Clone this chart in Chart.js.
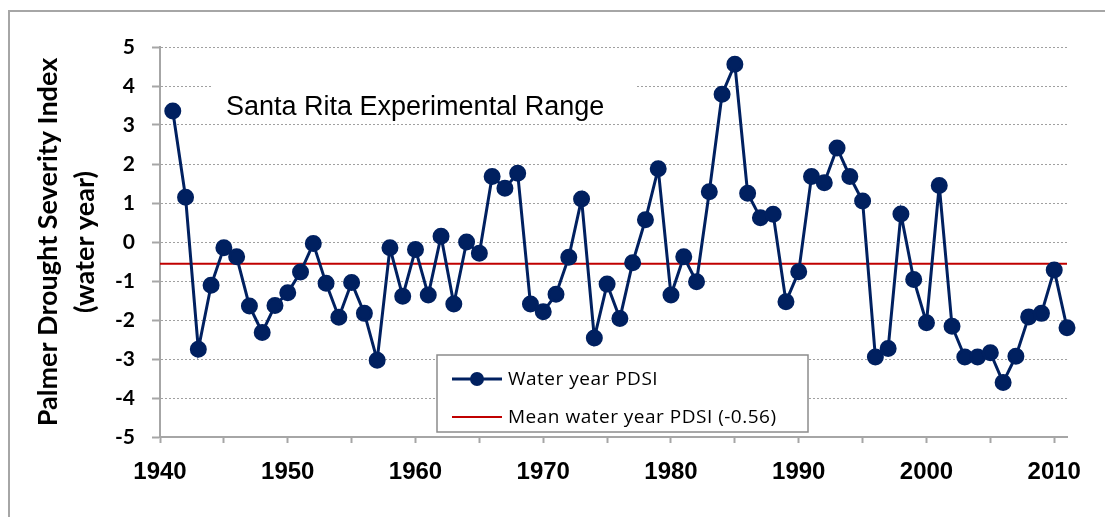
<!DOCTYPE html>
<html>
<head>
<meta charset="utf-8">
<script src="https://cdn.jsdelivr.net/npm/chart.js@4.4.1/dist/chart.umd.min.js"></script>
<style>
  body { margin: 0; background: #fff; overflow: hidden; }
  #frame { position: absolute; left: 8px; top: 10px; width: 1300px; height: 700px;
           border-left: 2px solid #a6a6a6; border-top: 2px solid #a6a6a6; }
  #wrap { position: absolute; left: 0; top: 0; width: 1105px; height: 517px; }
</style>
</head>
<body>
<div id="frame"></div>
<div id="wrap"><canvas id="chart" width="1105" height="517"></canvas></div>
<script>
const years = [
  1941, 1942, 1943, 1944, 1945, 1946, 1947, 1948, 1949, 1950,
  1951, 1952, 1953, 1954, 1955, 1956, 1957, 1958, 1959, 1960,
  1961, 1962, 1963, 1964, 1965, 1966, 1967, 1968, 1969, 1970,
  1971, 1972, 1973, 1974, 1975, 1976, 1977, 1978, 1979, 1980,
  1981, 1982, 1983, 1984, 1985, 1986, 1987, 1988, 1989, 1990,
  1991, 1992, 1993, 1994, 1995, 1996, 1997, 1998, 1999, 2000,
  2001, 2002, 2003, 2004, 2005, 2006, 2007, 2008, 2009, 2010,
  2011
];
const pdsi = [
  3.36, 1.15, -2.75, -1.11, -0.15, -0.38, -1.64, -2.32, -1.63, -1.30,
  -0.77, -0.04, -1.06, -1.93, -1.04, -1.83, -3.03, -0.15, -1.39, -0.19,
  -1.36, 0.15, -1.59, 0.00, -0.29, 1.68, 1.38, 1.76, -1.59, -1.79,
  -1.34, -0.39, 1.10, -2.46, -1.08, -1.96, -0.53, 0.57, 1.88, -1.36,
  -0.38, -1.02, 1.29, 3.79, 4.56, 1.25, 0.62, 0.71, -1.53, -0.76,
  1.68, 1.52, 2.41, 1.68, 1.05, -2.95, -2.73, 0.72, -0.96, -2.07,
  1.45, -2.16, -2.95, -2.95, -2.84, -3.60, -2.93, -1.92, -1.83, -0.72,
  -2.20
];
const meanPdsi = -0.56;
const xRange = [1940, 2011];
const yRange = [-5, 5];
const chartTitle = 'Santa Rita Experimental Range';
const yTitle = ['Palmer Drought Severity Index', '(water year)'];
const seriesLabels = ['Water year PDSI', 'Mean water year PDSI (-0.56)'];

const navy = '#002060';
const red = '#c00000';
const axisGray = '#a6a6a6';

// title text box sitting inside the plot, white behind it
const insideTitle = {
  id: 'insideTitle',
  beforeDatasetsDraw(chart) {
    const a = chart.chartArea;
    const ctx = chart.ctx;
    ctx.save();
    ctx.fillStyle = '#fff';
    ctx.fillRect(a.left + 52, a.top + 23, 425, 50);
    ctx.fillStyle = '#000';
    ctx.font = '27px "Liberation Sans", Arial, sans-serif';
    ctx.textBaseline = 'alphabetic';
    ctx.fillText(chartTitle, a.left + 66, a.top + 68);
    ctx.restore();
  }
};

// boxed legend inside the plot area
const insideLegend = {
  id: 'insideLegend',
  afterDraw(chart) {
    const a = chart.chartArea;
    const ctx = chart.ctx;
    const x = a.left + 277, y = a.top + 308, w = 371, h = 77;
    ctx.save();
    ctx.fillStyle = '#fff';
    ctx.fillRect(x, y, w, h);
    ctx.strokeStyle = '#8c8c8c';
    ctx.lineWidth = 1.5;
    ctx.strokeRect(x, y, w, h);
    ctx.font = '19px "Open Sans", sans-serif';
    ctx.letterSpacing = '0.5px';
    ctx.fillStyle = '#000';
    ctx.textBaseline = 'middle';
    chart.data.datasets.forEach((ds, i) => {
      const cy = y + 24 + i * 38;
      ctx.strokeStyle = ds.borderColor;
      ctx.lineWidth = ds.borderWidth;
      ctx.beginPath();
      ctx.moveTo(x + 15, cy);
      ctx.lineTo(x + 65, cy);
      ctx.stroke();
      if (ds.pointRadius > 0) {
        ctx.fillStyle = ds.pointBackgroundColor;
        ctx.beginPath();
        ctx.arc(x + 40, cy, ds.pointRadius, 0, Math.PI * 2);
        ctx.fill();
      }
      ctx.fillStyle = '#000';
      ctx.fillText(ds.label, x + 71, cy + 1);
    });
    ctx.restore();
  }
};

const ctx = document.getElementById('chart').getContext('2d');
new Chart(ctx, {
  type: 'line',
  data: {
    datasets: [
      {
        label: seriesLabels[0],
        data: years.map((yr, i) => ({ x: yr, y: pdsi[i] })),
        borderColor: navy,
        backgroundColor: navy,
        pointBackgroundColor: navy,
        pointBorderColor: navy,
        borderWidth: 3,
        pointRadius: 7,
        tension: 0,
        clip: 12,
        order: 0
      },
      {
        label: seriesLabels[1],
        data: xRange.map(yr => ({ x: yr, y: meanPdsi })),
        borderColor: red,
        backgroundColor: red,
        borderWidth: 2,
        pointRadius: 0,
        order: 1
      }
    ]
  },
  options: {
    responsive: false,
    animation: false,
    devicePixelRatio: 1,
    layout: { padding: { top: 47, right: 38, left: 0, bottom: 0 } },
    plugins: {
      legend: { display: false },
      title: { display: false },
      tooltip: { enabled: false }
    },
    scales: {
      x: {
        type: 'linear',
        min: xRange[0],
        max: xRange[1],
        afterFit(s) { s.height = 80; },
        ticks: {
          stepSize: 5,
          includeBounds: false,
          autoSkip: false,
          maxRotation: 0,
          padding: 15,
          color: '#000',
          font: { family: '"Liberation Sans Narrow", "Liberation Sans", sans-serif', size: 24, weight: 'bold' },
          callback: v => (v % 10 === 0 ? String(v) : '')
        },
        grid: {
          drawOnChartArea: false,
          drawTicks: true,
          tickLength: 6,
          tickColor: axisGray,
          tickWidth: 2
        },
        border: { display: true, color: axisGray, width: 2 }
      },
      y: {
        min: yRange[0],
        max: yRange[1],
        afterFit(s) { s.width = 160; },
        ticks: {
          stepSize: 1,
          padding: 17,
          color: '#000',
          font: { family: 'Lato, sans-serif', size: 21, weight: 'bold' }
        },
        grid: {
          color: '#a0a0a0',
          lineWidth: 1,
          tickLength: 8,
          tickColor: axisGray,
          tickWidth: 2
        },
        border: { display: true, color: axisGray, width: 2, dash: [2, 2] },
        title: {
          display: true,
          text: yTitle,
          color: '#000',
          padding: { top: 30, bottom: 0 },
          font: { family: 'Lato, sans-serif', size: 27, weight: 'bold', lineHeight: 1.37 }
        }
      }
    }
  },
  plugins: [insideTitle, insideLegend]
});
</script>
</body>
</html>
